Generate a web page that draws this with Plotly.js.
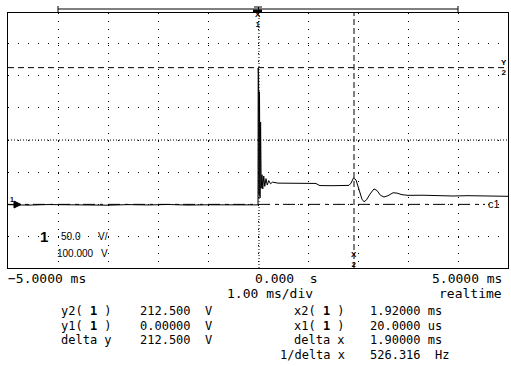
<!DOCTYPE html>
<html><head><meta charset="utf-8">
<script src="https://cdn.plot.ly/plotly-3.0.1.min.js"></script>
<style>html,body{margin:0;padding:0;background:#fff}#chart{width:511px;height:366px}</style>
</head><body><div id="chart"></div>
<script>
// ---- data (time in ms, voltage in V) ----
const timeMs = [-5, -4.6, -4.2, -3.8, -3.4, -3.0, -2.6, -2.2, -1.8, -1.4, -1.0, -0.6, -0.3, -0.01,
  0.000, 0.004, 0.012, 0.020, 0.030, 0.040, 0.052, 0.064, 0.080, 0.095, 0.115, 0.135, 0.160, 0.185,
  0.215, 0.250, 0.290, 0.40, 0.60, 0.80, 1.00, 1.16, 1.20, 1.24, 1.50, 1.70, 1.82,
  1.86, 1.91, 1.96, 2.02, 2.08, 2.12, 2.17, 2.24, 2.32, 2.38, 2.45, 2.52, 2.60, 2.70, 2.78, 2.88,
  3.00, 3.30, 3.60, 3.75, 3.90, 4.20, 4.50, 4.60, 4.80, 5.00];
const volts = [-0.5, -1.2, -0.3, -1.0, -0.6, -1.3, -0.4, -0.9, -0.2, -1.1, -0.7, -1.0, -0.3, -0.8,
  -0.8, 212, 200, 15, 175, 10, 128, 25, 46, 24, 44, 28, 40, 30,
  37, 32, 34.5, 33, 32.8, 32.6, 32.7, 32.5, 30.5, 29.2, 29, 29.2, 29.5,
  33, 41, 38, 22, 8, 4, 7, 16, 24, 21.5, 14, 11.5, 13.5, 18, 17.5, 15,
  14, 14.2, 13.8, 12.5, 13, 13.5, 13.2, 12.8, 12.3, 12.5];

const cursorX1 = 0.02, cursorX2 = 1.92;   // ms
const cursorY1 = 0, cursorY2 = 212.5;     // V
const centerV = 100, voltsPerDiv = 50;
const timeRange = [-5, 5];
const groundEnd = 4.54;

const scaleNums = ['50.0', '100.000'];
const scaleUnits = ['V/', 'V'];
const timeLabels = ['\u22125.0000 ms', '0.000  s', '5.0000 ms'];
const timebaseText = '1.00 ms/div';
const modeText = 'realtime';
const yLabels = ['y2( <b>1</b> )', 'y1( <b>1</b> )', 'delta y'];
const yValues = ['212.500  V', '0.00000  V', '212.500  V'];
const xLabels = ['x2( <b>1</b> )', 'x1( <b>1</b> )', 'delta x', '1/delta x'];
const xValues = ['1.92000 ms', '20.0000 us', '1.90000 ms', '526.316  Hz'];

// ---- layout helpers (pixel -> paper) ----
const L = 8, R = 508, T = 13, B = 268;
const PX = x => (x - L) / (R - L);
const PY = y => (B - y) / (B - T);
const mono = 'DejaVu Sans Mono';
const sans = 'Liberation Sans';
function ann(text, x, y, xanchor, size, family) {
  return {text, xref: 'paper', yref: 'paper', x: PX(x), y: PY(y), xanchor, yanchor: 'middle',
    showarrow: false, borderpad: 0, font: {family: family || mono, size: size || 12, color: '#000'}};
}

const annotations = [
  ann(timeLabels[0], 7, 278, 'left', 13),
  ann(timeLabels[1], 254, 278, 'left', 13),
  ann(timeLabels[2], 503, 278, 'right', 13),
  ann(timebaseText, 226, 293, 'left', 13),
  ann(modeText, 503, 293, 'right', 13),
  ann('<b>1</b>', 44, 236, 'center', 15, sans),
  ann(scaleNums[0], 60, 236, 'left', 10, sans),
  ann(scaleUnits[0], 97, 236, 'left', 10, sans),
  ann(scaleNums[1], 56, 253, 'left', 10, sans),
  ann(scaleUnits[1], 100, 253, 'left', 10, sans),
  ann('c1', 487, 204, 'left', 11, sans),
  ann('<b>X</b><br><b>1</b>', 258, 19.5, 'center', 8, sans),
  ann('<b>Y</b><br><b>2</b>', 504, 67, 'center', 8, sans),
  ann('<b>X</b><br><b>2</b>', 354, 259.5, 'center', 8, sans),
  ann('<b>1</b>', 12, 199, 'center', 7, sans)
];
const rowsY = [311, 325.5, 340, 355];
yLabels.forEach((t, i) => annotations.push(ann(t, 113, rowsY[i], 'right')));
yValues.forEach((t, i) => annotations.push(ann(t, 139, rowsY[i], 'left')));
xLabels.forEach((t, i) => annotations.push(ann(t, 346, rowsY[i], 'right')));
xValues.forEach((t, i) => annotations.push(ann(t, 369, rowsY[i], 'left')));

const blk = '#000';
const shapes = [
  // center horizontal axis (dense dots)
  {type: 'line', xref: 'x', yref: 'y', x0: timeRange[0], x1: timeRange[1], y0: centerV, y1: centerV,
   line: {color: blk, width: 1, dash: '1px,2px'}},
  // ground / y1 reference (dash-dot)
  {type: 'line', xref: 'x', yref: 'y', x0: timeRange[0], x1: groundEnd, y0: cursorY1, y1: cursorY1,
   line: {color: blk, width: 1, dash: '12px,5px,3px,5px'}},
  // y2 cursor
  {type: 'line', xref: 'x', yref: 'y', x0: timeRange[0], x1: timeRange[1], y0: cursorY2, y1: cursorY2,
   line: {color: blk, width: 1, dash: '6px,4px'}},
  // x1 cursor (dotted)
  {type: 'line', xref: 'x', yref: 'paper', x0: cursorX1, x1: cursorX1, y0: 0, y1: 1,
   line: {color: blk, width: 1, dash: '1px,2px'}},
  // x2 cursor (dashed)
  {type: 'line', xref: 'x', yref: 'paper', x0: cursorX2, x1: cursorX2, y0: 0, y1: 1,
   line: {color: blk, width: 1, dash: '6px,3px'}},
  // memory bar on top
  {type: 'line', xref: 'x', yref: 'paper', x0: -4, x1: 4, y0: PY(9), y1: PY(9), line: {color: blk, width: 1}},
  {type: 'line', xref: 'x', yref: 'paper', x0: -4, x1: -4, y0: PY(6), y1: PY(12), line: {color: blk, width: 1}},
  {type: 'line', xref: 'x', yref: 'paper', x0: 4, x1: 4, y0: PY(6), y1: PY(12), line: {color: blk, width: 1}},
  // trigger marker
  {type: 'rect', xref: 'paper', yref: 'paper', x0: PX(253), x1: PX(262), y0: PY(12.5), y1: PY(9.5),
   fillcolor: blk, line: {width: 0}},
  {type: 'line', xref: 'paper', yref: 'paper', x0: PX(254), x1: PX(262), y0: PY(7), y1: PY(7), line: {color: blk, width: 1}},
  {type: 'line', xref: 'paper', yref: 'paper', x0: PX(258.5), x1: PX(258.5), y0: PY(7), y1: PY(9.5), line: {color: blk, width: 1}},
  // ground marker arrow
  {type: 'path', xref: 'paper', yref: 'paper',
   path: `M${PX(14)},${PY(201)} L${PX(21)},${PY(204.5)} L${PX(14)},${PY(208)} Z`,
   fillcolor: blk, line: {color: blk, width: 1}}
];

const trace = {x: timeMs, y: volts, type: 'scatter', mode: 'lines',
  line: {color: blk, width: 1, shape: 'linear'}, hoverinfo: 'skip'};

const layout = {
  width: 511, height: 366, autosize: false,
  margin: {l: L, r: 511 - R, t: T, b: 366 - B, pad: 0},
  paper_bgcolor: '#fff', plot_bgcolor: '#fff', showlegend: false,
  xaxis: {range: timeRange, dtick: 1, tick0: 0, showticklabels: false, ticks: '',
    showgrid: true, gridcolor: blk, gridwidth: 1, griddash: '1px,7px', zeroline: false,
    showline: true, mirror: true, linecolor: blk, linewidth: 1, fixedrange: true},
  yaxis: {range: [-98.9, 297.4], dtick: voltsPerDiv, tick0: centerV, showticklabels: false, ticks: '',
    showgrid: true, gridcolor: blk, gridwidth: 1, griddash: '1px,9px', zeroline: false,
    showline: true, mirror: true, linecolor: blk, linewidth: 1, fixedrange: true},
  shapes, annotations
};
Plotly.newPlot('chart', [trace], layout, {displayModeBar: false, staticPlot: true});
</script></body></html>
